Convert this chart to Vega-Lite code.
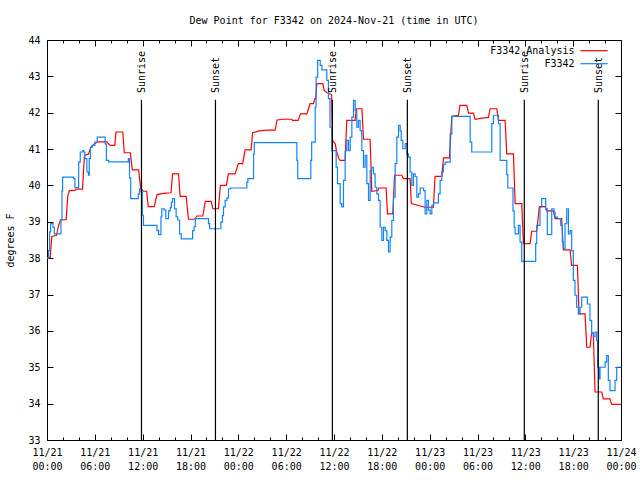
{
 "$schema": "https://vega.github.io/schema/vega-lite/v6.json",
 "width": 574, "height": 400,
 "autosize": {"type": "none"},
 "padding": {"left": 47, "top": 40, "right": 19, "bottom": 40},
 "background": "white",
 "title": {"text": "Dew Point for F3342 on 2024-Nov-21 (time in UTC)", "font": "DejaVu Sans Mono", "fontSize": 10, "fontWeight": "normal", "color": "black", "anchor": "middle", "baseline": "middle", "offset": 4},
 "config": {"view": {"stroke": "black", "strokeWidth": 1}, "font": "DejaVu Sans Mono"},
 "datasets": {
  "analysis": [
   {"h":0,"v":38.0},{"h":0.4,"v":38.02},{"h":0.6,"v":38.6},{"h":1.2,"v":38.63},{"h":1.45,"v":38.9},{"h":1.7,"v":39.05},{"h":2.4,"v":39.06},{"h":2.6,"v":39.7},{"h":2.8,"v":39.86},{"h":3.55,"v":39.87},{"h":3.65,"v":39.9},{"h":4.45,"v":39.9},{"h":4.7,"v":40.83},{"h":5.2,"v":40.86},{"h":5.5,"v":41.05},{"h":5.95,"v":41.15},{"h":6.4,"v":41.2},{"h":7.5,"v":41.2},{"h":7.9,"v":41.1},{"h":8.5,"v":41.1},{"h":8.65,"v":41.47},{"h":9.5,"v":41.47},{"h":9.7,"v":40.9},{"h":10.45,"v":40.9},{"h":10.7,"v":40.43},{"h":11.5,"v":40.43},{"h":11.6,"v":40.2},{"h":11.75,"v":39.95},{"h":12.05,"v":39.84},{"h":12.5,"v":39.84},{"h":12.7,"v":39.42},{"h":13.45,"v":39.42},{"h":13.8,"v":39.75},{"h":14.6,"v":39.78},{"h":15.55,"v":39.8},{"h":15.75,"v":40.32},{"h":16.5,"v":40.32},{"h":16.7,"v":39.7},{"h":17.45,"v":39.7},{"h":17.75,"v":39.07},{"h":18.5,"v":39.07},{"h":18.8,"v":39.16},{"h":19.55,"v":39.16},{"h":19.85,"v":39.56},{"h":20.6,"v":39.56},{"h":20.8,"v":39.36},{"h":21.5,"v":39.36},{"h":21.75,"v":40.0},{"h":22.5,"v":40.0},{"h":22.75,"v":40.32},{"h":23.6,"v":40.32},{"h":24.0,"v":40.6},{"h":24.55,"v":40.6},{"h":24.85,"v":40.98},{"h":25.6,"v":40.98},{"h":25.8,"v":41.45},{"h":26.65,"v":41.5},{"h":27.6,"v":41.52},{"h":28.62,"v":41.52},{"h":28.85,"v":41.8},{"h":29.7,"v":41.82},{"h":30.7,"v":41.82},{"h":30.8,"v":41.79},{"h":31.5,"v":41.79},{"h":31.65,"v":41.88},{"h":31.8,"v":41.97},{"h":32.6,"v":41.97},{"h":32.8,"v":42.11},{"h":33.0,"v":42.25},{"h":33.43,"v":42.25},{"h":33.6,"v":42.39},{"h":33.72,"v":42.39},{"h":33.85,"v":42.8},{"h":34.6,"v":42.8},{"h":34.77,"v":42.61},{"h":35.1,"v":42.55},{"h":35.7,"v":42.5},{"h":35.8,"v":41.24},{"h":36.15,"v":41.15},{"h":36.3,"v":40.96},{"h":36.6,"v":40.74},{"h":36.77,"v":40.69},{"h":37.4,"v":40.69},{"h":37.6,"v":41.79},{"h":38.65,"v":41.79},{"h":38.8,"v":42.11},{"h":39.5,"v":42.11},{"h":39.7,"v":41.27},{"h":40.53,"v":41.27},{"h":40.74,"v":39.84},{"h":41.5,"v":39.86},{"h":41.6,"v":39.93},{"h":42.54,"v":39.93},{"h":42.71,"v":39.22},{"h":43.37,"v":39.22},{"h":43.6,"v":40.28},{"h":44.5,"v":40.28},{"h":44.7,"v":40.19},{"h":45.55,"v":40.19},{"h":45.7,"v":39.5},{"h":46.6,"v":39.45},{"h":47.4,"v":39.4},{"h":48.47,"v":39.4},{"h":48.68,"v":40.25},{"h":49.52,"v":40.25},{"h":49.73,"v":40.76},{"h":50.48,"v":40.76},{"h":50.78,"v":41.9},{"h":51.61,"v":41.93},{"h":51.8,"v":42.2},{"h":52.66,"v":42.2},{"h":52.87,"v":41.99},{"h":53.49,"v":41.99},{"h":53.7,"v":41.82},{"h":54.54,"v":41.85},{"h":55.37,"v":41.87},{"h":55.58,"v":42.11},{"h":56.42,"v":42.11},{"h":56.63,"v":41.79},{"h":57.46,"v":41.79},{"h":57.67,"v":40.87},{"h":58.51,"v":40.87},{"h":58.72,"v":39.5},{"h":59.55,"v":39.5},{"h":59.76,"v":38.4},{"h":60.59,"v":38.4},{"h":60.8,"v":38.74},{"h":61.43,"v":38.74},{"h":61.76,"v":39.42},{"h":62.47,"v":39.42},{"h":62.68,"v":39.3},{"h":63.52,"v":39.3},{"h":63.73,"v":39.09},{"h":64.56,"v":39.09},{"h":64.77,"v":38.23},{"h":65.61,"v":38.23},{"h":65.81,"v":37.8},{"h":66.53,"v":37.8},{"h":66.6,"v":37.4},{"h":66.73,"v":36.47},{"h":67.49,"v":36.47},{"h":67.7,"v":35.55},{"h":68.11,"v":35.55},{"h":68.32,"v":35.95},{"h":68.53,"v":35.95},{"h":68.74,"v":34.32},{"h":69.58,"v":34.32},{"h":69.79,"v":34.13},{"h":70.62,"v":34.13},{"h":70.83,"v":33.98},{"h":72,"v":33.98}
  ],
  "station": [
   {"h":0,"v":38.0},{"h":0.2,"v":38.21},{"h":0.33,"v":38.72},{"h":0.45,"v":38.95},{"h":0.75,"v":38.85},{"h":0.92,"v":38.67},{"h":1.75,"v":39.06},{"h":1.88,"v":39.84},{"h":1.96,"v":40.23},{"h":3.34,"v":40.19},{"h":3.5,"v":39.94},{"h":3.97,"v":40.64},{"h":4.17,"v":40.92},{"h":4.5,"v":40.96},{"h":4.6,"v":40.92},{"h":4.75,"v":40.74},{"h":5.0,"v":40.37},{"h":5.2,"v":40.28},{"h":5.3,"v":40.74},{"h":5.45,"v":41.05},{"h":5.7,"v":41.1},{"h":6.0,"v":41.19},{"h":6.3,"v":41.33},{"h":7.3,"v":41.14},{"h":7.45,"v":40.69},{"h":7.75,"v":40.65},{"h":10.2,"v":40.74},{"h":10.35,"v":40.2},{"h":10.5,"v":39.64},{"h":11.45,"v":39.77},{"h":11.6,"v":39.91},{"h":11.8,"v":39.82},{"h":11.95,"v":39.18},{"h":12.1,"v":38.9},{"h":13.79,"v":38.76},{"h":14.0,"v":38.65},{"h":14.29,"v":39.14},{"h":14.4,"v":39.36},{"h":14.71,"v":39.32},{"h":14.9,"v":39.09},{"h":15.25,"v":39.3},{"h":15.46,"v":39.39},{"h":15.6,"v":39.54},{"h":15.75,"v":39.64},{"h":16.0,"v":39.36},{"h":16.2,"v":39.14},{"h":16.4,"v":39.05},{"h":16.63,"v":38.67},{"h":16.84,"v":38.53},{"h":18.26,"v":38.76},{"h":18.45,"v":38.86},{"h":18.6,"v":39.09},{"h":20.26,"v":38.95},{"h":20.4,"v":38.81},{"h":21.81,"v":38.99},{"h":22.0,"v":39.17},{"h":22.14,"v":39.41},{"h":22.35,"v":39.59},{"h":22.56,"v":39.66},{"h":22.77,"v":39.91},{"h":23.0,"v":39.93},{"h":25.07,"v":40.09},{"h":25.2,"v":40.19},{"h":25.91,"v":40.87},{"h":26.0,"v":41.18},{"h":31.34,"v":40.69},{"h":31.45,"v":40.19},{"h":33.09,"v":40.69},{"h":33.2,"v":41.19},{"h":33.64,"v":42.15},{"h":33.75,"v":42.98},{"h":33.95,"v":43.44},{"h":34.27,"v":43.3},{"h":34.48,"v":43.18},{"h":35.1,"v":42.89},{"h":35.3,"v":42.39},{"h":35.5,"v":41.6},{"h":35.73,"v":40.96},{"h":36.27,"v":40.5},{"h":36.44,"v":40.05},{"h":36.77,"v":39.5},{"h":36.98,"v":39.41},{"h":37.19,"v":40.14},{"h":37.4,"v":40.96},{"h":37.61,"v":41.24},{"h":37.82,"v":40.96},{"h":38.03,"v":41.33},{"h":38.24,"v":41.88},{"h":38.45,"v":42.34},{"h":38.66,"v":42.06},{"h":38.86,"v":41.6},{"h":39.07,"v":41.79},{"h":39.28,"v":41.51},{"h":39.49,"v":40.96},{"h":39.7,"v":40.5},{"h":39.91,"v":40.83},{"h":40.12,"v":40.05},{"h":40.33,"v":39.59},{"h":40.54,"v":40.41},{"h":40.74,"v":40.5},{"h":40.95,"v":40.32},{"h":41.16,"v":39.95},{"h":41.37,"v":39.77},{"h":41.58,"v":39.59},{"h":41.79,"v":38.85},{"h":42.0,"v":38.49},{"h":42.21,"v":38.85},{"h":42.42,"v":38.76},{"h":42.63,"v":38.49},{"h":42.83,"v":38.17},{"h":43.04,"v":38.58},{"h":43.25,"v":39.04},{"h":43.46,"v":39.68},{"h":43.67,"v":40.6},{"h":43.88,"v":41.33},{"h":44.09,"v":41.65},{"h":44.3,"v":41.5},{"h":44.43,"v":41.24},{"h":44.63,"v":41.01},{"h":44.93,"v":41.15},{"h":45.14,"v":40.87},{"h":45.34,"v":40.78},{"h":45.55,"v":40.37},{"h":45.76,"v":40.0},{"h":45.97,"v":40.32},{"h":46.18,"v":40.24},{"h":46.39,"v":39.68},{"h":46.6,"v":39.77},{"h":46.81,"v":39.93},{"h":47.23,"v":39.86},{"h":47.43,"v":39.22},{"h":47.64,"v":39.59},{"h":47.85,"v":39.32},{"h":48.06,"v":39.22},{"h":48.27,"v":39.45},{"h":48.48,"v":39.52},{"h":49.1,"v":39.77},{"h":49.31,"v":40.14},{"h":49.52,"v":40.37},{"h":49.73,"v":40.57},{"h":49.94,"v":40.64},{"h":50.57,"v":41.42},{"h":50.78,"v":41.9},{"h":53.08,"v":41.19},{"h":53.28,"v":40.92},{"h":55.79,"v":41.7},{"h":56.0,"v":41.93},{"h":56.63,"v":41.7},{"h":56.84,"v":40.69},{"h":57.67,"v":40.3},{"h":57.8,"v":39.93},{"h":58.45,"v":39.3},{"h":58.6,"v":38.85},{"h":58.72,"v":38.67},{"h":59.13,"v":38.9},{"h":59.34,"v":38.44},{"h":59.55,"v":37.91},{"h":61.3,"v":38.4},{"h":61.43,"v":38.9},{"h":61.84,"v":39.4},{"h":62.05,"v":39.64},{"h":62.56,"v":39.36},{"h":62.76,"v":38.65},{"h":63.31,"v":39.36},{"h":63.6,"v":39.27},{"h":63.73,"v":39.13},{"h":64.02,"v":39.09},{"h":64.44,"v":38.9},{"h":64.64,"v":38.45},{"h":64.77,"v":38.27},{"h":64.98,"v":38.95},{"h":65.19,"v":39.36},{"h":65.4,"v":38.67},{"h":65.61,"v":38.76},{"h":65.81,"v":38.21},{"h":66.02,"v":37.39},{"h":66.23,"v":36.98},{"h":66.44,"v":36.65},{"h":66.65,"v":36.47},{"h":66.86,"v":36.65},{"h":67.07,"v":36.93},{"h":67.78,"v":36.74},{"h":68.11,"v":36.29},{"h":68.32,"v":35.93},{"h":68.53,"v":35.84},{"h":68.74,"v":35.97},{"h":68.95,"v":35.73},{"h":69.07,"v":35.0},{"h":69.28,"v":34.68},{"h":69.37,"v":35.0},{"h":70.0,"v":35.14},{"h":70.2,"v":35.32},{"h":70.41,"v":34.64},{"h":70.62,"v":34.36},{"h":71.25,"v":34.64},{"h":71.46,"v":35.0},{"h":72,"v":35.0}
  ],
  "sun": [
   {"h":11.85,"label":"Sunrise"},{"h":21.13,"label":"Sunset"},{"h":35.8,"label":"Sunrise"},{"h":45.2,"label":"Sunset"},{"h":59.87,"label":"Sunrise"},{"h":69.15,"label":"Sunset"}
  ]
 },
 "layer": [
  {
   "data": {"name": "analysis"},
   "mark": {"type": "line", "interpolate": "linear", "strokeWidth": 1.2, "clip": true},
   "encoding": {
    "x": {"field": "h", "type": "quantitative", "scale": {"domain": [0, 72], "nice": false, "zero": false},
     "axis": {"orient": "bottom", "values": [0,2,4,6,8,10,12,14,16,18,20,22,24,26,28,30,32,34,36,38,40,42,44,46,48,50,52,54,56,58,60,62,64,66,68,70,72],
      "labelExpr": "datum.value % 6 == 0 ? ['11/' + (21 + floor(datum.value / 24)), (datum.value % 24 < 10 ? '0' : '') + (datum.value % 24) + ':00'] : ''",
      "tickSize": {"condition": {"test": "datum.value % 6 == 0", "value": -6}, "value": -3},
      "tickColor": "black", "tickWidth": 1, "domain": false, "grid": false, "title": null,
      "labelFont": "DejaVu Sans Mono", "labelFontSize": 10, "labelColor": "black", "labelPadding": 13, "labelLineHeight": 14, "labelBaseline": "top", "labelAngle": 0, "labelFlush": false, "labelOverlap": false}},
    "y": {"field": "v", "type": "quantitative", "scale": {"domain": [33, 44], "nice": false, "zero": false},
     "axis": {"orient": "left", "values": [33,34,35,36,37,38,39,40,41,42,43,44], "tickSize": -6, "tickColor": "black", "domain": false, "grid": false,
      "labelFont": "DejaVu Sans Mono", "labelFontSize": 10, "labelColor": "black", "labelPadding": 13,
      "title": "degrees F", "titleFont": "DejaVu Sans Mono", "titleFontSize": 10, "titleFontWeight": "normal", "titleColor": "black",
      "titleX": -37, "titleY": 200, "titleAngle": 270, "titleBaseline": "middle", "titleAlign": "center"}},
    "color": {"datum": "F3342 Analysis", "type": "nominal", "scale": {"domain": ["F3342 Analysis", "F3342"], "range": ["#ff0000", "#1084ff"]},
     "legend": {"orient": "none", "legendX": 539.5, "legendY": 3.2, "title": null, "symbolType": "M-2.1,0H2.1", "symbolSize": 169, "symbolStrokeWidth": 1.2, "labelAlign": "right", "labelOffset": -27, "labelFont": "DejaVu Sans Mono", "labelFontSize": 10, "labelColor": "black", "rowPadding": 0, "padding": 0}}
   }
  },
  {
   "data": {"name": "station"},
   "mark": {"type": "line", "interpolate": "step-after", "strokeWidth": 1.2, "clip": true},
   "encoding": {
    "x": {"field": "h", "type": "quantitative",
     "axis": {"orient": "top", "values": [0,2,4,6,8,10,12,14,16,18,20,22,24,26,28,30,32,34,36,38,40,42,44,46,48,50,52,54,56,58,60,62,64,66,68,70,72],
      "tickSize": {"condition": {"test": "datum.value % 6 == 0", "value": -6}, "value": -3},
      "tickColor": "black", "labels": false, "domain": false, "grid": false, "title": null}},
    "y": {"field": "v", "type": "quantitative",
     "axis": {"orient": "right", "values": [33,34,35,36,37,38,39,40,41,42,43,44], "tickSize": -6, "tickColor": "black", "labels": false, "domain": false, "grid": false, "title": null}},
    "color": {"datum": "F3342", "type": "nominal"}
   }
  },
  {
   "data": {"name": "sun"},
   "mark": {"type": "rule", "color": "black", "strokeWidth": 1.2},
   "encoding": {
    "x": {"field": "h", "type": "quantitative", "axis": null},
    "y": {"datum": 33, "type": "quantitative", "axis": null},
    "y2": {"datum": 42.36}
   }
  },
  {
   "data": {"name": "sun"},
   "mark": {"type": "text", "angle": 270, "align": "left", "baseline": "middle", "font": "DejaVu Sans Mono", "fontSize": 10, "color": "black", "dy": 1},
   "encoding": {
    "x": {"field": "h", "type": "quantitative", "axis": null},
    "y": {"datum": 42.54, "type": "quantitative", "axis": null},
    "text": {"field": "label"}
   }
  }
 ],
 "resolve": {"axis": {"x": "independent", "y": "independent"}}
}
